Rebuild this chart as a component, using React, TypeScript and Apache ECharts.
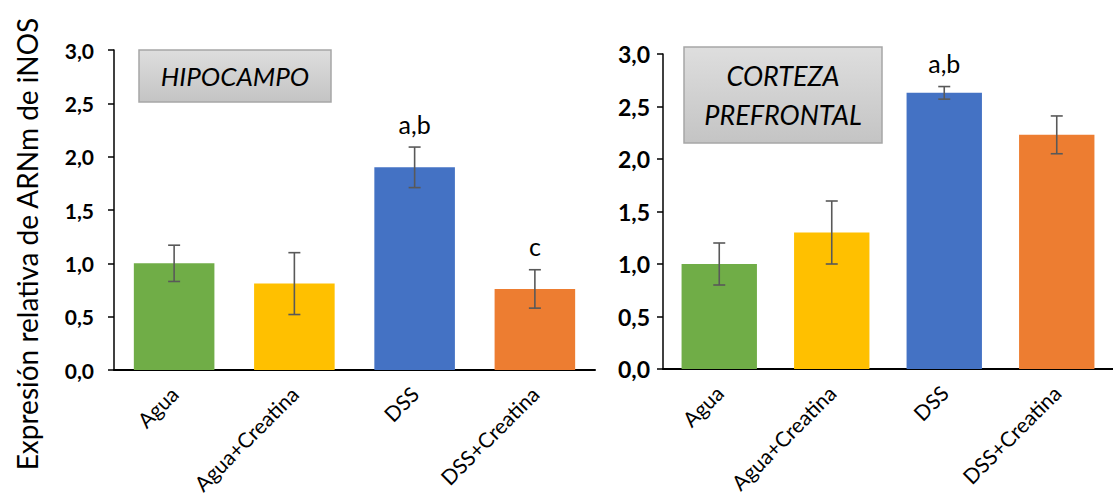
import React, { useEffect, useRef } from "react";
import * as echarts from "echarts";

// Groups and bar colours (shared by both panels)
const groups = ["Agua", "Agua+Creatina", "DSS", "DSS+Creatina"];
const barColors = ["#70AD47", "#FFC000", "#4472C4", "#ED7D31"];

// Relative iNOS mRNA expression, hippocampus
const hipoMean = [1.0, 0.81, 1.9, 0.76];
const hipoErr = [0.17, 0.29, 0.19, 0.18];
const hipoSig = ["", "", "a,b", "c"];

// Relative iNOS mRNA expression, prefrontal cortex
const cortMean = [1.0, 1.3, 2.63, 2.23];
const cortErr = [0.2, 0.3, 0.06, 0.18];
const cortSig = ["", "", "a,b", ""];

const yTicks = [0, 0.5, 1.0, 1.5, 2.0, 2.5, 3.0];
const yAxisTitle = "Expresión relativa de ARNm de iNOS";

const FONT = "Lato, 'Open Sans', sans-serif";

function errorSeries(idx: number, mean: number[], err: number[], sig: string[]) {
  return {
    type: "custom",
    xAxisIndex: idx,
    yAxisIndex: idx,
    z: 5,
    data: mean.map((m, i) => [i, m, err[i]]),
    renderItem: (params: any, api: any) => {
      const i = api.value(0);
      const m = api.value(1);
      const e = api.value(2);
      const hi = api.coord([i, m + e]);
      const lo = api.coord([i, m - e]);
      const cap = 6;
      const ls = { stroke: "#595959", lineWidth: 1.6 };
      const children: any[] = [
        { type: "line", shape: { x1: hi[0], y1: hi[1], x2: lo[0], y2: lo[1] }, style: ls },
        { type: "line", shape: { x1: hi[0] - cap, y1: hi[1], x2: hi[0] + cap, y2: hi[1] }, style: ls },
        { type: "line", shape: { x1: lo[0] - cap, y1: lo[1], x2: lo[0] + cap, y2: lo[1] }, style: ls },
      ];
      const letter = sig[params.dataIndex];
      if (letter) {
        children.push({
          type: "text",
          x: hi[0],
          y: hi[1] - 11,
          style: {
            text: letter,
            textAlign: "center",
            textVerticalAlign: "bottom",
            fontSize: 25,
            fontFamily: FONT,
            fill: "#000",
          },
        });
      }
      return { type: "group", children };
    },
  };
}

function barSeries(idx: number, mean: number[]) {
  return {
    type: "bar",
    xAxisIndex: idx,
    yAxisIndex: idx,
    barWidth: "67%",
    data: mean.map((v, i) => ({ value: v, itemStyle: { color: barColors[i] } })),
  };
}

function xAxis(idx: number) {
  return {
    type: "category",
    gridIndex: idx,
    data: groups,
    axisLine: { lineStyle: { color: "#000", width: 2 } },
    axisTick: { show: false },
    axisLabel: {
      rotate: 45,
      interval: 0,
      margin: 20,
      fontSize: 21,
      fontFamily: FONT,
      color: "#000",
    },
  };
}

function yAxis(idx: number, margin: number, size: number) {
  return {
    type: "value",
    gridIndex: idx,
    min: yTicks[0],
    max: yTicks[yTicks.length - 1],
    interval: yTicks[1] - yTicks[0],
    splitLine: { show: false },
    axisLine: { show: true, lineStyle: { color: "#000", width: 1.5 } },
    axisTick: { show: true, length: 6, lineStyle: { color: "#000", width: 1.5 } },
    axisLabel: {
      margin,
      fontSize: size,
      fontWeight: "bold",
      fontFamily: FONT,
      color: "#000",
      formatter: (v: number) => v.toFixed(1).replace(".", ","),
    },
  };
}

function titleBox(x: number, y: number, w: number, h: number, lines: string[], lineGap: number, size: number) {
  const fill = new echarts.graphic.LinearGradient(0, 0, 0, 1, [
    { offset: 0, color: "#dedede" },
    { offset: 1, color: "#c4c4c4" },
  ]);
  const texts = lines.map((t, k) => ({
    type: "text",
    x: x + w / 2,
    y: y + h / 2 + (k - (lines.length - 1) / 2) * lineGap,
    style: {
      text: t,
      textAlign: "center",
      textVerticalAlign: "middle",
      fontSize: size,
      fontStyle: "italic",
      fontFamily: FONT,
      fill: "#000",
    },
  }));
  return [
    {
      type: "rect",
      shape: { x, y, width: w, height: h },
      style: { fill, stroke: "#a6a6a6", lineWidth: 1.5 },
    },
    ...texts,
  ];
}

export default function App() {
  const ref = useRef<HTMLDivElement>(null);

  useEffect(() => {
    if (!ref.current) return;
    const chart = echarts.init(ref.current, undefined, { renderer: "svg" });
    chart.setOption({
      animation: false,
      backgroundColor: "#fff",
      grid: [
        { left: 114, right: 518, top: 50, bottom: 132 },
        { left: 663, right: -14, top: 54, bottom: 133 },
      ],
      xAxis: [xAxis(0), xAxis(1)],
      yAxis: [yAxis(0, 20, 21), yAxis(1, 13, 23)],
      series: [
        barSeries(0, hipoMean),
        errorSeries(0, hipoMean, hipoErr, hipoSig),
        barSeries(1, cortMean),
        errorSeries(1, cortMean, cortErr, cortSig),
      ],
      graphic: [
        {
          type: "text",
          x: 27,
          y: 244,
          rotation: Math.PI / 2,
          style: {
            text: yAxisTitle,
            textAlign: "center",
            textVerticalAlign: "middle",
            fontSize: 28,
            fontFamily: FONT,
            fill: "#000",
          },
        },
        ...titleBox(139, 50, 192, 52, ["HIPOCAMPO"], 0, 26),
        ...titleBox(684, 47, 198, 96, ["CORTEZA", "PREFRONTAL"], 39, 27),
      ],
    });
    return () => chart.dispose();
  }, []);

  return (
    <div
      ref={ref}
      style={{ position: "fixed", left: 0, top: 0, width: 1113, height: 502 }}
    />
  );
}
